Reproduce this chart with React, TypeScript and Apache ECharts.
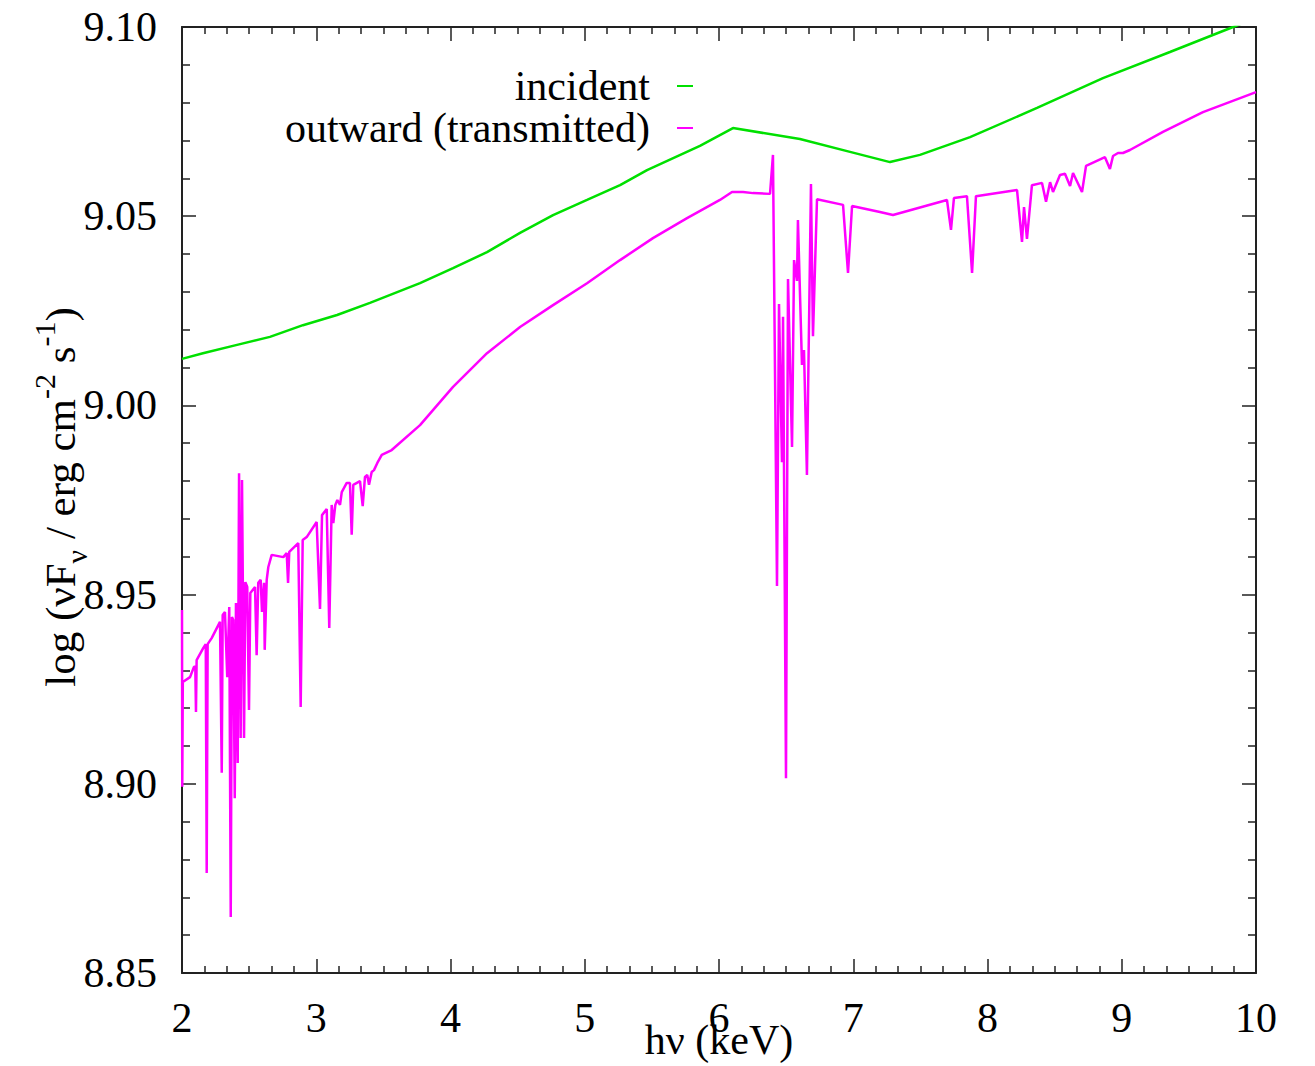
import React, { useEffect, useRef } from "react";
import * as echarts from "echarts";

// ---- data ----
const xTicks = [2, 3, 4, 5, 6, 7, 8, 9, 10];
const yTicks = [8.85, 8.9, 8.95, 9.0, 9.05, 9.1];

const incidentE = [2.000, 2.156, 2.410, 2.655, 2.901, 3.155, 3.400, 3.773, 4.019, 4.272, 4.518, 4.764, 5.017, 5.263, 5.464, 5.858, 6.104, 6.603, 6.976, 7.274, 7.497, 7.870, 8.369, 8.860, 9.359, 9.829, 10.000];
const incidentF = [9.0123, 9.0138, 9.0160, 9.0181, 9.0212, 9.0239, 9.0271, 9.0323, 9.0363, 9.0405, 9.0456, 9.0503, 9.0543, 9.0582, 9.0622, 9.0686, 9.0733, 9.0704, 9.0670, 9.0643, 9.0662, 9.0709, 9.0786, 9.0865, 9.0934, 9.1000, 9.1024];

const outwardE = [2.000, 2.002, 2.006, 2.060, 2.089, 2.099, 2.104, 2.109, 2.159, 2.177, 2.184, 2.191, 2.221, 2.283, 2.296, 2.303, 2.320, 2.337, 2.352, 2.363, 2.372, 2.382, 2.393, 2.402, 2.415, 2.425, 2.437, 2.447, 2.462, 2.472, 2.486, 2.499, 2.509, 2.544, 2.556, 2.568, 2.586, 2.596, 2.611, 2.616, 2.631, 2.643, 2.668, 2.755, 2.780, 2.790, 2.799, 2.866, 2.884, 2.899, 2.929, 3.003, 3.028, 3.043, 3.078, 3.097, 3.115, 3.127, 3.142, 3.157, 3.177, 3.190, 3.227, 3.251, 3.264, 3.276, 3.326, 3.346, 3.363, 3.380, 3.393, 3.413, 3.430, 3.455, 3.488, 3.562, 3.773, 4.019, 4.272, 4.518, 4.764, 5.017, 5.263, 5.508, 5.762, 6.007, 6.097, 6.179, 6.253, 6.380, 6.402, 6.432, 6.447, 6.469, 6.477, 6.499, 6.514, 6.544, 6.559, 6.581, 6.588, 6.618, 6.633, 6.655, 6.685, 6.700, 6.730, 6.924, 6.961, 6.991, 7.199, 7.296, 7.698, 7.728, 7.750, 7.847, 7.885, 7.914, 8.220, 8.257, 8.272, 8.294, 8.331, 8.406, 8.436, 8.466, 8.488, 8.540, 8.577, 8.615, 8.637, 8.704, 8.734, 8.875, 8.912, 8.935, 8.972, 9.009, 9.061, 9.307, 9.605, 10.000];
const outwardF = [8.9459, 8.8992, 8.9269, 8.9282, 8.9309, 8.9309, 8.9190, 8.9327, 8.9359, 8.9369, 8.8764, 8.9369, 8.9385, 8.9428, 8.9029, 8.9446, 8.9454, 8.9282, 8.9467, 8.8648, 8.9441, 8.9433, 8.8962, 8.9478, 8.9055, 8.9821, 8.9121, 8.9803, 8.9121, 8.9533, 8.9520, 8.9195, 8.9504, 8.9520, 8.9340, 8.9531, 8.9539, 8.9454, 8.9531, 8.9354, 8.9539, 8.9573, 8.9605, 8.9599, 8.9610, 8.9531, 8.9613, 8.9636, 8.9203, 8.9644, 8.9652, 8.9692, 8.9462, 8.9710, 8.9726, 8.9412, 8.9737, 8.9689, 8.9737, 8.9750, 8.9737, 8.9771, 8.9795, 8.9795, 8.9658, 8.9790, 8.9800, 8.9734, 8.9811, 8.9816, 8.9790, 8.9824, 8.9829, 8.9848, 8.9869, 8.9882, 8.9948, 9.0049, 9.0138, 9.0207, 9.0265, 9.0323, 9.0384, 9.0442, 9.0495, 9.0543, 9.0564, 9.0564, 9.0561, 9.0559, 9.0662, 8.9523, 9.0268, 8.9850, 9.0234, 8.9015, 9.0334, 8.9890, 9.0384, 9.0329, 9.0490, 9.0107, 9.0146, 8.9816, 9.0585, 9.0183, 9.0545, 9.0530, 9.0350, 9.0527, 9.0511, 9.0503, 9.0543, 9.0464, 9.0548, 9.0553, 9.0350, 9.0553, 9.0569, 9.0432, 9.0524, 9.0440, 9.0582, 9.0588, 9.0538, 9.0590, 9.0564, 9.0609, 9.0612, 9.0580, 9.0614, 9.0564, 9.0633, 9.0656, 9.0625, 9.0659, 9.0667, 9.0667, 9.0675, 9.0723, 9.0775, 9.0828];

const seriesNames = ["incident", "outward (transmitted)"];
const xTitle = "hν (keV)";

const FONT = "'Liberation Serif', 'Times New Roman', serif";

export default function App() {
  const ref = useRef<HTMLDivElement>(null);
  useEffect(() => {
    if (!ref.current) return;
    const chart = echarts.init(ref.current, null, { renderer: "svg" });
    const incData = incidentE.map((e, i) => [e, incidentF[i]]);
    const outData = outwardE.map((e, i) => [e, outwardF[i]]);
    const axisLine = { show: true, onZero: false, lineStyle: { color: "#222", width: 2 } };
    const tick = { show: true, inside: true, length: 14, lineStyle: { color: "#222", width: 1.5 } };
    const xCommon = {
      type: "value",
      min: 2,
      max: 10,
      interval: 1,
      axisLine,
      axisTick: tick,
      minorTick: { show: true, splitNumber: 6, length: 7, lineStyle: { color: "#222", width: 1.5 } },
      splitLine: { show: false },
    };
    const yCommon = {
      type: "value",
      min: 8.85,
      max: 9.1,
      interval: 0.05,
      axisLine,
      axisTick: tick,
      minorTick: { show: true, splitNumber: 5, length: 8, lineStyle: { color: "#222", width: 1.5 } },
      splitLine: { show: false },
    };
    chart.setOption({
      animation: false,
      backgroundColor: "#fff",
      grid: { left: 182, right: 59, top: 27, bottom: 93, containLabel: false, outerBoundsMode: "none" },
      legend: {
        data: seriesNames,
        orient: "vertical",
        align: "right",
        right: 617,
        top: 60,
        itemWidth: 16,
        itemHeight: 2,
        itemGap: 0,
        icon: "rect",
        textStyle: { fontFamily: FONT, fontSize: 42, color: "#000", lineHeight: 42, padding: [0, 22, 0, 0] },
      },
      xAxis: [
        {
          ...xCommon,
          position: "bottom",
          name: xTitle,
          nameLocation: "middle",
          nameGap: 46,
          nameMoveOverlap: false,
          nameTextStyle: { fontFamily: FONT, fontSize: 42, color: "#000" },
          axisLabel: {
            show: true,
            margin: 24,
            fontFamily: FONT,
            fontSize: 42,
            color: "#000",
            customValues: xTicks,
            formatter: (v: number) => String(v),
          },
        },
        { ...xCommon, position: "top", axisLabel: { show: false } },
      ],
      yAxis: [
        {
          ...yCommon,
          position: "left",
          axisLabel: {
            show: true,
            margin: 25,
            fontFamily: FONT,
            fontSize: 42,
            color: "#000",
            customValues: yTicks,
            formatter: (v: number) => v.toFixed(2),
          },
        },
        { ...yCommon, position: "right", axisLabel: { show: false } },
      ],
      graphic: [
        {
          type: "text",
          x: 60,
          y: 497,
          rotation: Math.PI / 2,
          style: {
            text: "{a|log (νF}{sub|ν}{a| / erg cm}{sup|-2}{a| s}{sup|-1}{a|)}",
            align: "center",
            verticalAlign: "middle",
            fill: "#000",
            fontFamily: FONT,
            fontSize: 42,
            rich: {
              a: { fontFamily: FONT, fontSize: 43, lineHeight: 62, fill: "#000", verticalAlign: "middle" },
              sub: { fontFamily: FONT, fontSize: 30, lineHeight: 30, fill: "#000", verticalAlign: "bottom" },
              sup: { fontFamily: FONT, fontSize: 30, lineHeight: 30, fill: "#000", verticalAlign: "top" },
            },
          },
        },
      ],
      series: [
        {
          name: seriesNames[0],
          type: "line",
          data: incData,
          showSymbol: false,
          symbol: "none",
          clip: true,
          color: "#00e000",
          lineStyle: { color: "#00e000", width: 2.5 },
        },
        {
          name: seriesNames[1],
          type: "line",
          data: outData,
          showSymbol: false,
          symbol: "none",
          clip: true,
          color: "#ff00ff",
          lineStyle: { color: "#ff00ff", width: 2.5 },
        },
      ],
    });
    return () => chart.dispose();
  }, []);
  return (
    <div
      ref={ref}
      style={{ position: "absolute", left: 0, top: 0, width: 1315, height: 1066, background: "#fff" }}
    />
  );
}
